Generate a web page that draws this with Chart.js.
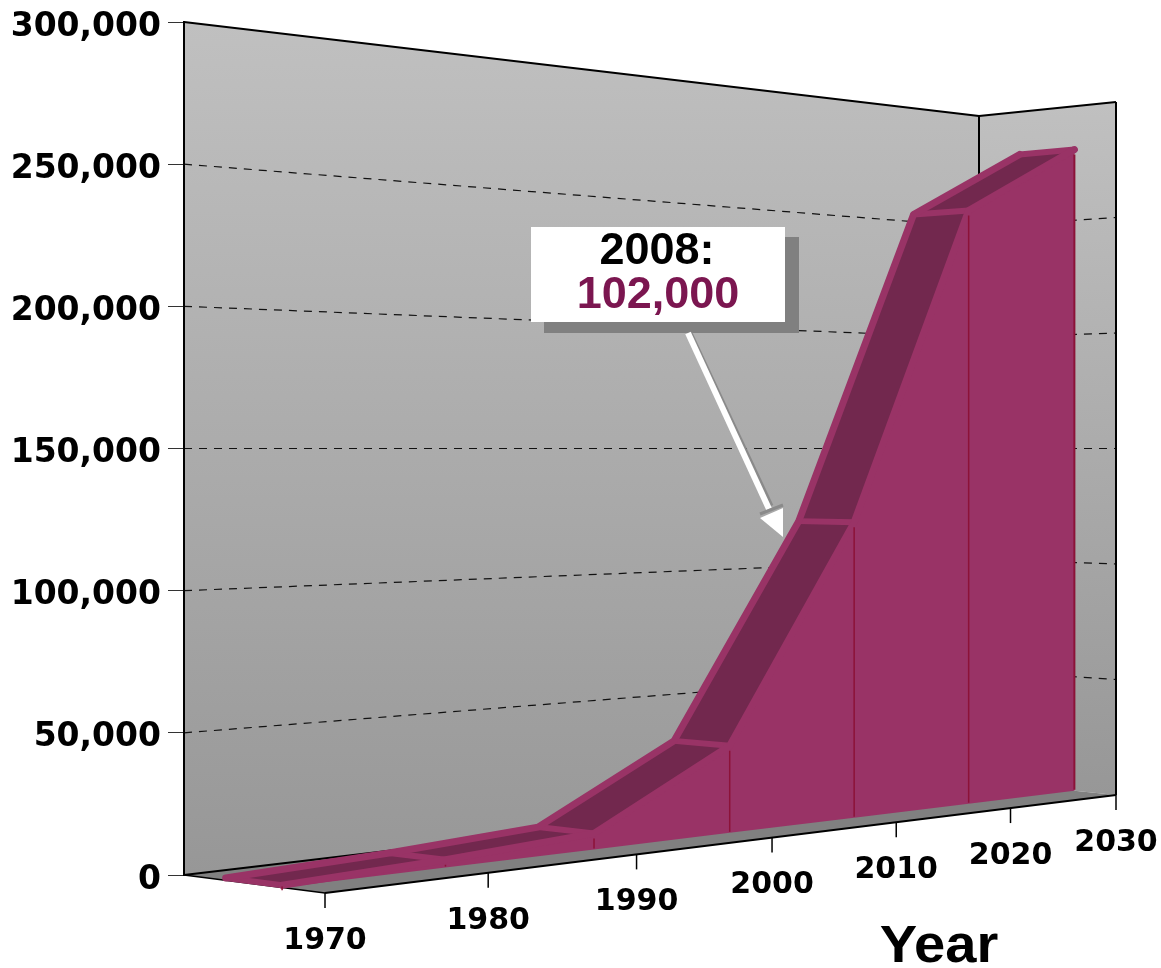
<!DOCTYPE html>
<html>
<head>
<meta charset="utf-8">
<title>Year chart</title>
<script src="https://cdn.jsdelivr.net/npm/chart.js@4"></script>
<style>
  html, body { margin: 0; padding: 0; background: #fff; }
  canvas { display: block; }
</style>
</head>
<body>
<canvas id="chart" width="1161" height="968"></canvas>
<script>
// data
const years = [1970, 1980, 1990, 2000, 2010, 2020, 2030];
const population = [800, 2800, 6000, 34000, 120000, 250500, 281000];
const valueTicks = [0, 50000, 100000, 150000, 200000, 250000, 300000];
const yearTitle = 'Year';
const calloutYear = '2008:';
const calloutValue = '102,000';

const AREA = '#993366';
const TOP_FACE = '#72284e';
const DROP = '#8c1238';
const LABEL_FONT = 'bold 30px "DejaVu Sans"';

// floor corners on screen, used for the perspective
const FL = [325, 893], FR = [1116, 795], BR = [979, 781], BL = [184, 875];
const FRONT = 0.3, BACK = 0.7;  // depth of the ribbon between front edge (0) and back wall (1)
const YEAR_WARP = 1.132;        // years bunch up to the right a bit more than the corners alone give

const det = (a, b, c, d) => a * d - b * c;
const sx = FL[0] - FR[0] + BR[0] - BL[0], sy = FL[1] - FR[1] + BR[1] - BL[1];
const dx1 = FR[0] - BR[0], dx2 = BL[0] - BR[0], dy1 = FR[1] - BR[1], dy2 = BL[1] - BR[1];
const g = det(sx, dx2, sy, dy2) / det(dx1, dx2, dy1, dy2);
const h = det(dx1, sx, dy1, sy) / det(dx1, dx2, dy1, dy2);

const floorPoint = (u, w) => {
    const q = g * u + h * w + 1;
    return [
        ((FR[0] - FL[0] + g * FR[0]) * u + (BL[0] - FL[0] + h * BL[0]) * w + FL[0]) / q,
        ((FR[1] - FL[1] + g * FR[1]) * u + (BL[1] - FL[1] + h * BL[1]) * w + FL[1]) / q
    ];
};

// scale pixel -> screen pixel at a given depth
const project = (chart, px, py, w) => {
    const a = chart.chartArea;
    const horizon = chart.scales.y.getPixelForValue(150000);
    const t = (px - a.left) / a.width;
    const u = YEAR_WARP * t / (1 + (YEAR_WARP - 1) * t);
    const f = (a.bottom - py) / a.height;
    const p = floorPoint(u, w);
    return [p[0], horizon + (p[1] - horizon) * (1 - 2 * f)];
};

const at = (chart, year, value, w) =>
    project(chart, chart.scales.x.getPixelForValue(year), chart.scales.y.getPixelForValue(value), w);

const poly = (ctx, pts, fill, stroke, width) => {
    ctx.beginPath();
    pts.forEach((p, i) => i ? ctx.lineTo(p[0], p[1]) : ctx.moveTo(p[0], p[1]));
    ctx.closePath();
    if (fill) { ctx.fillStyle = fill; ctx.fill(); }
    if (stroke) { ctx.strokeStyle = stroke; ctx.lineWidth = width; ctx.stroke(); }
};

const line = (ctx, a, b, color, width, dash) => {
    ctx.beginPath();
    ctx.setLineDash(dash || []);
    ctx.moveTo(a[0], a[1]);
    ctx.lineTo(b[0], b[1]);
    ctx.strokeStyle = color;
    ctx.lineWidth = width;
    ctx.stroke();
    ctx.setLineDash([]);
};

const wallGradient = (ctx, top, bottom) => {
    const grad = ctx.createLinearGradient(0, top, 0, bottom);
    grad.addColorStop(0, '#c0c0c0');
    grad.addColorStop(1, '#979797');
    return grad;
};

const perspective = {
    id: 'perspective',

    // the library placed the points from the scales, push them onto the 3D planes
    afterDatasetsUpdate(chart) {
        [FRONT, BACK].forEach((w, i) => {
            chart.getDatasetMeta(i).data.forEach(pt => {
                const p = project(chart, pt.x, pt.y, w);
                pt.x = p[0];
                pt.y = p[1];
            });
        });
    },

    // walls, floor, grid and year axis
    beforeDraw(chart) {
        const ctx = chart.ctx;
        const minY = years[0], maxY = years[years.length - 1];
        const top = valueTicks[valueTicks.length - 1];
        ctx.save();
        ctx.fillStyle = '#fff';
        ctx.fillRect(0, 0, chart.width, chart.height);

        const bl0 = at(chart, minY, 0, 1), br0 = at(chart, maxY, 0, 1);
        const blT = at(chart, minY, top, 1), brT = at(chart, maxY, top, 1);
        const fr0 = at(chart, maxY, 0, 0), frT = at(chart, maxY, top, 0);
        const fl0 = at(chart, minY, 0, 0);

        poly(ctx, [blT, brT, br0, bl0], wallGradient(ctx, blT[1], bl0[1]));
        poly(ctx, [brT, frT, fr0, br0], wallGradient(ctx, frT[1], fr0[1]));
        poly(ctx, [bl0, br0, fr0, fl0], '#808080');

        valueTicks.slice(1, -1).forEach(v => {
            const a = at(chart, minY, v, 1), b = at(chart, maxY, v, 1), c = at(chart, maxY, v, 0);
            line(ctx, a, b, '#111', 1.2, [8, 7]);
            line(ctx, b, c, '#111', 1.2, [8, 7]);
        });

        line(ctx, blT, brT, '#000', 2);
        line(ctx, brT, frT, '#000', 2);
        line(ctx, brT, br0, '#000', 2);
        line(ctx, frT, fr0, '#000', 2);
        line(ctx, bl0, br0, '#000', 2);
        line(ctx, bl0, fl0, '#000', 1.5);
        line(ctx, fl0, fr0, '#000', 2);

        // year ticks and labels
        ctx.textAlign = 'center';
        ctx.textBaseline = 'middle';
        ctx.fillStyle = '#000';
        years.forEach(y => {
            const p = at(chart, y, 0, 0);
            line(ctx, p, [p[0], p[1] + 15], '#000', 1.5);
            ctx.font = LABEL_FONT;
            ctx.fillText(String(y), p[0], p[1] + 48);
        });
        ctx.font = 'bold 51px "Liberation Sans"';
        ctx.translate(939, 948);
        ctx.scale(1.1, 1);
        ctx.fillText(yearTitle, 0, 0);
        ctx.restore();
    },

    // the faces under the two outline datasets
    beforeDatasetsDraw(chart) {
        const ctx = chart.ctx;
        const front = chart.getDatasetMeta(0).data;
        const back = chart.getDatasetMeta(1).data;
        ctx.save();
        ctx.lineJoin = 'round';
        ctx.lineCap = 'round';
        front.forEach((pt, i) => {
            if (i === 0) return;
            poly(ctx, [[back[i - 1].x, back[i - 1].y], [back[i].x, back[i].y],
                       [pt.x, pt.y], [front[i - 1].x, front[i - 1].y]], TOP_FACE);
        });
        const base = years.map(y => at(chart, y, 0, FRONT)).reverse();
        poly(ctx, front.map(pt => [pt.x, pt.y]).concat(base), AREA);
        front.forEach((pt, i) => {
            line(ctx, [back[i].x, back[i].y], [pt.x, pt.y], AREA, 6);
        });
        ctx.restore();
    },

    // drop lines and the callout
    afterDatasetsDraw(chart) {
        const ctx = chart.ctx;
        ctx.save();
        chart.getDatasetMeta(0).data.forEach((pt, i) => {
            const b = at(chart, years[i], 0, FRONT);
            line(ctx, [pt.x, pt.y + 5], [b[0], b[1] - 1], DROP, i === years.length - 1 ? 2 : 1.5);
        });

        // callout shadow, box, arrow
        ctx.fillStyle = '#808080';
        ctx.fillRect(544, 237, 255, 96);
        ctx.fillStyle = '#fff';
        ctx.fillRect(531, 227, 254, 95);
        line(ctx, [690, 333], [771, 506], '#8a8a8a', 5);
        line(ctx, [688, 333], [769, 509], '#fff', 6);
        line(ctx, [760, 514], [783, 505], '#8a8a8a', 3);
        poly(ctx, [[783, 537], [760, 518], [783, 508]], '#fff');

        ctx.textAlign = 'center';
        ctx.textBaseline = 'middle';
        ctx.font = 'bold 45px "Liberation Sans"';
        ctx.fillStyle = '#000';
        ctx.fillText(calloutYear, 657, 252);
        ctx.fillStyle = '#7b1650';
        ctx.fillText(calloutValue, 658, 296);
        ctx.restore();
    }
};

const points = years.map((y, i) => ({ x: y, y: population[i] }));
const outline = { data: points, borderColor: AREA, borderWidth: 7, pointRadius: 0, tension: 0, clip: false, borderJoinStyle: 'round', borderCapStyle: 'round' };

new Chart(document.getElementById('chart'), {
    type: 'line',
    data: {
        datasets: [
            Object.assign({ label: 'Front' }, outline),
            Object.assign({ label: 'Back' }, outline, { data: points.map(p => ({ x: p.x, y: p.y })) })
        ]
    },
    plugins: [perspective],
    options: {
        responsive: false,
        animation: false,
        devicePixelRatio: 1,
        layout: { padding: { top: 22, right: 45, bottom: 93 } },
        plugins: { legend: { display: false }, tooltip: { enabled: false } },
        scales: {
            x: { type: 'linear', min: years[0], max: years[years.length - 1], display: false },
            y: {
                min: valueTicks[0],
                max: valueTicks[valueTicks.length - 1],
                afterBuildTicks: s => { s.ticks = valueTicks.map(v => ({ value: v })); },
                afterFit: s => { s.width = 184; s.paddingTop = 0; s.paddingBottom = 0; },
                border: { display: true, color: '#000', width: 2 },
                grid: { drawOnChartArea: false, drawTicks: true, tickLength: 16, color: '#333', lineWidth: 1 },
                ticks: {
                    padding: 7,
                    labelOffset: 5,
                    color: '#000',
                    font: { family: '"DejaVu Sans"', weight: 'bold', size: 33 },
                    callback: v => v.toLocaleString('en-US')
                }
            }
        }
    }
});
</script>
</body>
</html>
